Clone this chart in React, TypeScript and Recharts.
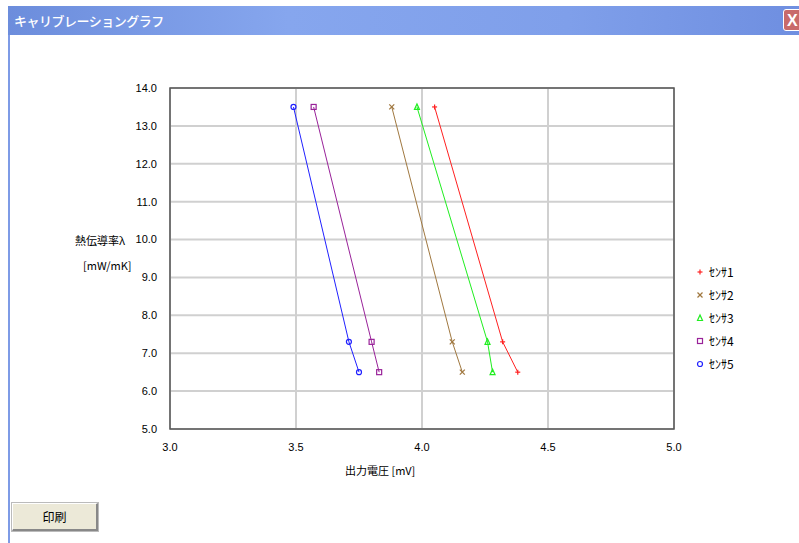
import React from 'react'
import {
  ScatterChart, Scatter, XAxis, YAxis, CartesianGrid, ReferenceArea,
} from 'recharts'

const conductivity = [13.5, 7.3, 6.5]
const sensor1 = [4.05, 4.32, 4.38]
const sensor2 = [3.88, 4.12, 4.16]
const sensor3 = [3.98, 4.26, 4.28]
const sensor4 = [3.57, 3.80, 3.83]
const sensor5 = [3.49, 3.71, 3.75]

const xTicks = [3.0, 3.5, 4.0, 4.5, 5.0]
const yTicks = [5, 6, 7, 8, 9, 10, 11, 12, 13, 14]

const seriesNames = ['ｾﾝｻ1', 'ｾﾝｻ2', 'ｾﾝｻ3', 'ｾﾝｻ4', 'ｾﾝｻ5']
const seriesColors = ['#ff2020', '#a07840', '#20ee20', '#992299', '#2020ff']
const seriesMarks = ['plus', 'cross', 'triangle', 'square', 'circle']
const seriesValues = [sensor1, sensor2, sensor3, sensor4, sensor5]

const jp = '"Noto Sans CJK JP", sans-serif'
const num = '"Liberation Sans", Arial, sans-serif'

function Mark({ kind, cx, cy, color }: { kind: string; cx: number; cy: number; color: string }) {
  const s = 2.5
  if (kind === 'plus') {
    return (
      <g stroke={color} strokeWidth={1.2}>
        <line x1={cx - s} y1={cy} x2={cx + s} y2={cy} />
        <line x1={cx} y1={cy - s} x2={cx} y2={cy + s} />
      </g>
    )
  }
  if (kind === 'cross') {
    return (
      <g stroke={color} strokeWidth={1.2}>
        <line x1={cx - s} y1={cy - s} x2={cx + s} y2={cy + s} />
        <line x1={cx - s} y1={cy + s} x2={cx + s} y2={cy - s} />
      </g>
    )
  }
  if (kind === 'triangle') {
    return (
      <polygon
        points={`${cx},${cy - 3} ${cx - 2.5},${cy + 2.5} ${cx + 2.5},${cy + 2.5}`}
        fill="none" stroke={color} strokeWidth={1.2}
      />
    )
  }
  if (kind === 'square') {
    return <rect x={cx - 2.5} y={cy - 2.5} width={5} height={5} fill="none" stroke={color} strokeWidth={1.2} />
  }
  return <circle cx={cx} cy={cy} r={2.5} fill="none" stroke={color} strokeWidth={1.2} />
}

function LegendBox() {
  return (
    <div style={{ position: 'absolute', left: 695, top: 260, fontFamily: jp, fontSize: 12, color: '#000' }}>
      {seriesNames.map((name, i) => (
        <div key={name} style={{ display: 'flex', alignItems: 'center', height: 23 }}>
          <svg width={10} height={10} style={{ marginRight: 4 }}>
            <Mark kind={seriesMarks[i]} cx={5} cy={5} color={seriesColors[i]} />
          </svg>
          <span>{name}</span>
        </div>
      ))}
    </div>
  )
}

export default function App() {
  return (
    <div style={{ position: 'absolute', left: 0, top: 0, width: 799, height: 543, background: '#fff', overflow: 'hidden' }}>
      {/* window frame */}
      <div style={{
        position: 'absolute', left: 8, top: 6, width: 800, height: 29,
        background: 'linear-gradient(90deg, #6c8ddc 0%, #86a6ee 35%, #7f9fea 70%, #6e8ee0 100%)',
      }} />
      <div style={{ position: 'absolute', left: 8, top: 35, width: 2, height: 508, background: '#7e9be6' }} />
      <div style={{
        position: 'absolute', left: 14, top: 11, color: '#fff', fontFamily: jp, fontSize: 13, fontWeight: 500,
        letterSpacing: -0.5,
      }}>
        キャリブレーショングラフ
      </div>
      <div style={{
        position: 'absolute', left: 783, top: 9, width: 20, height: 22, background: '#c86a6a',
        border: '1px solid #fff', borderRadius: 3, color: '#fff', fontFamily: num, fontSize: 16, fontWeight: 'bold',
        lineHeight: '22px', paddingLeft: 3, boxSizing: 'border-box',
      }}>
        X
      </div>

      <div style={{ position: 'absolute', left: 0, top: 0 }}>
        <ScatterChart width={799} height={543} margin={{ top: 88, right: 125, bottom: 84, left: 110 }}>
          <CartesianGrid stroke="#d0d0d0" strokeWidth={2} horizontalValues={yTicks} verticalValues={xTicks} />
          <XAxis
            type="number" dataKey="x" domain={[3, 5]} ticks={xTicks} height={30}
            axisLine={false} tickLine={false} tickSize={0} tickMargin={14}
            tickFormatter={(v: number) => v.toFixed(1)}
            tick={{ fontSize: 11, fill: '#000', fontFamily: num }}
          />
          <YAxis
            type="number" dataKey="y" domain={[5, 14]} ticks={yTicks} width={60}
            axisLine={false} tickLine={false} tickSize={0} tickMargin={13}
            tickFormatter={(v: number) => v.toFixed(1)}
            tick={{ fontSize: 11, fill: '#000', fontFamily: num }}
          />
          <ReferenceArea x1={3} x2={5} y1={5} y2={14} fill="none" stroke="#555" strokeWidth={1.5} />
          {seriesValues.map((vals, i) => (
            <Scatter
              key={seriesNames[i]}
              name={seriesNames[i]}
              data={conductivity.map((y, j) => ({ x: vals[j], y }))}
              line={{ stroke: seriesColors[i], strokeWidth: 1 }}
              lineType="joint"
              isAnimationActive={false}
              shape={(p: any) => <Mark kind={seriesMarks[i]} cx={p.cx} cy={p.cy} color={seriesColors[i]} />}
            />
          ))}
        </ScatterChart>
      </div>

      <LegendBox />

      <div style={{ position: 'absolute', left: 75, top: 232, fontFamily: jp, fontSize: 11, color: '#000' }}>熱伝導率λ</div>
      <div style={{ position: 'absolute', left: 83, top: 257, fontFamily: jp, fontSize: 11, color: '#000' }}>[mW/mK]</div>
      <div style={{ position: 'absolute', left: 345, top: 462, fontFamily: jp, fontSize: 11, color: '#000' }}>出力電圧 [mV]</div>

      <div style={{
        position: 'absolute', left: 12, top: 503, width: 86, height: 28, background: '#ece9d8',
        borderTop: '1px solid #fff', borderLeft: '1px solid #fff', borderRight: '2px solid #888', borderBottom: '2px solid #888',
        boxSizing: 'border-box', fontFamily: jp, fontSize: 12, color: '#000', textAlign: 'center', lineHeight: '25px',
        boxShadow: '0 0 0 1px #bbb',
      }}>
        印刷
      </div>
    </div>
  )
}
